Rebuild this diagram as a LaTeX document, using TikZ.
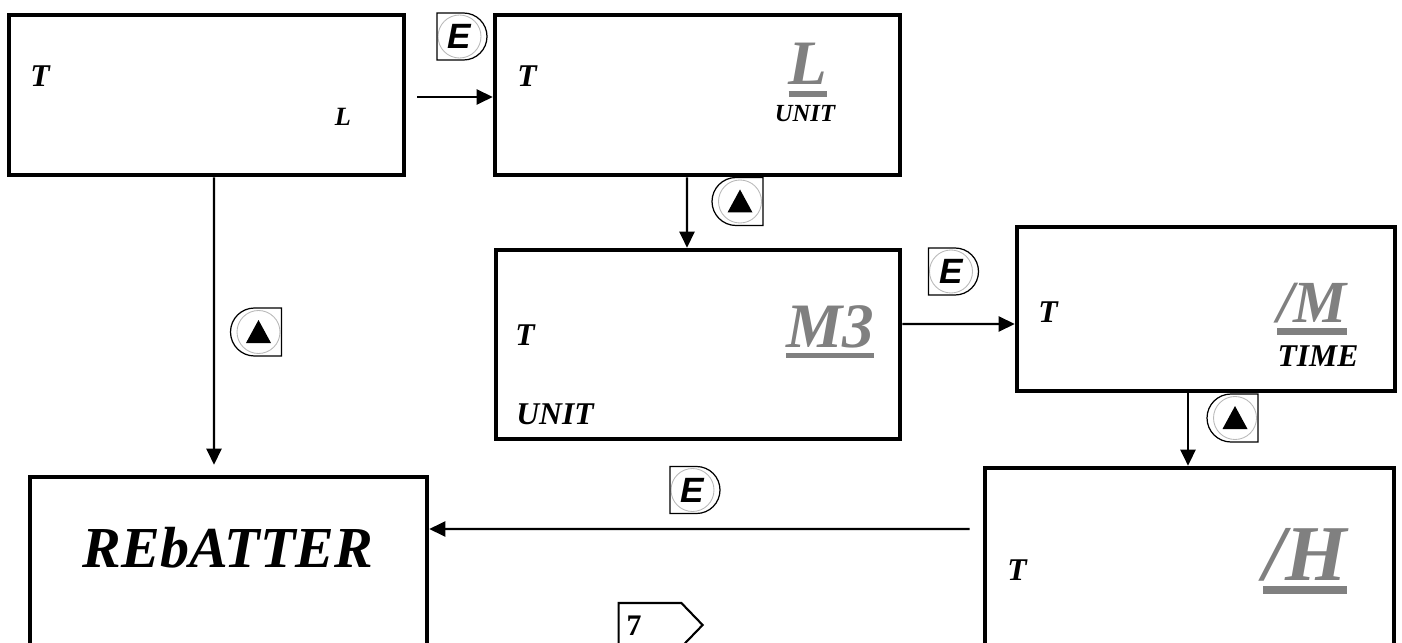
\documentclass[tikz,border=0pt]{standalone}
\usepackage{fontspec}
\setmainfont{Liberation Serif}
\newfontfamily\keyfont{Liberation Sans}
\usetikzlibrary{arrows.meta,shapes.misc,shapes.symbols}
\pgfdeclarelayer{bg}
\pgfsetlayers{bg,main}
\definecolor{dispgray}{HTML}{808080}
\newcommand{\barred}[2][3.4pt]{\vtop{\hbox{#2}\kern3.2pt\hrule height #1}}
\tikzset{
        screen/.style={draw, line width=2.6pt, inner sep=0pt},
        link/.style={line width=1.3pt, -{Triangle[length=0.32cm,width=0.30cm]}},
        ekey/.style={rounded rectangle, rounded rectangle left arc=none, draw,
                line width=0.7pt, minimum width=1.00cm, minimum height=0.94cm, inner sep=0pt,
                path picture={
                        \draw[gray!55, line width=0.5pt] ([xshift=-0.05cm]path picture bounding box.center) circle (0.43cm);
                        \node[font=\keyfont\bfseries\itshape\fontsize{20}{20}\selectfont, inner sep=0pt]
                                at ([xshift=-0.05cm]path picture bounding box.center) {E};}},
        upkey/.style={rounded rectangle, rounded rectangle right arc=none, draw,
                line width=0.7pt, minimum width=1.02cm, minimum height=0.96cm, inner sep=0pt,
                path picture={
                        \draw[gray!55, line width=0.5pt] ([xshift=0.05cm]path picture bounding box.center) circle (0.43cm);
                        \fill ([xshift=-0.20cm,yshift=-0.22cm]path picture bounding box.center)
                                -- ++(0.50,0) -- ++(-0.25,0.46) -- cycle;}},
        txt/.style={inner sep=0pt, font=\bfseries\itshape\fontsize{18}{21}\selectfont},
        big/.style={inner sep=0pt, anchor=base, text=dispgray, font=\bfseries\itshape\fontsize{36}{40}\selectfont}
}
\begin{document}
\begin{tikzpicture}
        \useasboundingbox (0,0) rectangle (28.04cm, 12.84cm);
        \clip (0,0) rectangle (28.04cm, 12.84cm);
        % screens
        \node (scr0) [screen, minimum width=7.90cm, minimum height=3.20cm] at (4.130000cm, 10.940000cm) {};
        \node (scr1) [screen, minimum width=8.10cm, minimum height=3.20cm] at (13.950000cm, 10.940000cm) {};
        \node (scr2) [screen, minimum width=8.08cm, minimum height=3.78cm] at (13.960000cm, 5.950000cm) {};
        \node (scr3) [screen, minimum width=7.56cm, minimum height=3.28cm] at (24.120000cm, 6.660000cm) {};
        \node (scr4) [screen, minimum width=7.94cm, minimum height=4.30cm] at (4.570000cm, 1.150000cm) {};
        \node (scr5) [screen, minimum width=8.18cm, minimum height=4.48cm] at (23.790000cm, 1.240000cm) {};
        % texts
        \node (t0) [txt] at (0.800000cm, 11.320000cm) {T};
        \node (l0) [txt, font=\bfseries\itshape\fontsize{15}{18}\selectfont] at (6.860000cm, 10.500000cm) {L};
        \node (t1) [txt] at (10.540000cm, 11.320000cm) {T};
        \node (u1) [big] at (16.160000cm, 11.140000cm) {\barred{L}};
        \node (n1) [txt, font=\bfseries\itshape\fontsize{14}{16}\selectfont] at (16.100000cm, 10.560000cm) {UNIT};
        \node (t2) [txt] at (10.500000cm, 6.140000cm) {T};
        \node (u2) [big] at (16.600000cm, 5.900000cm) {\barred[2.8pt]{M3}};
        \node (n2) [txt] at (11.100000cm, 4.560000cm) {UNIT};
        \node (t3) [txt] at (20.960000cm, 6.600000cm) {T};
        \node (u3) [big, font=\bfseries\itshape\fontsize{34}{38}\selectfont] at (26.240000cm, 6.400000cm) {\barred[3.8pt]{/M}};
        \node (n3) [txt] at (26.360000cm, 5.720000cm) {TIME};
        \node (t5) [txt] at (20.340000cm, 1.440000cm) {T};
        \node (u5) [big, font=\bfseries\itshape\fontsize{45}{50}\selectfont] at (26.100000cm, 1.240000cm) {\barred[4.5pt]{/H}};
        \node (r4) [txt, font=\bfseries\itshape\fontsize{33}{38}\selectfont] at (4.560000cm, 1.880000cm) {REbATTER};
        % keys
        \node (key0) [ekey] at (9.240000cm, 12.110000cm) {};
        \node (key1) [upkey] at (14.750000cm, 8.810000cm) {};
        \node (key2) [upkey] at (5.120000cm, 6.200000cm) {};
        \node (key3) [ekey] at (19.070000cm, 7.410000cm) {};
        \node (key4) [upkey] at (24.650000cm, 4.480000cm) {};
        \node (key5) [ekey] at (13.900000cm, 3.040000cm) {};
        % page tag
        \node (tag) [signal, signal to=east, signal pointer angle=92, draw, line width=1.2pt,
                minimum width=1.68cm, minimum height=0.88cm] at (13.000000cm, 0.340000cm) {};
        \node (tagnum) [inner sep=0pt, font=\bfseries\fontsize{17}{20}\selectfont] at (12.680000cm, 0.320000cm) {7};
        \begin{pgfonlayer}{bg}
                \draw [link] ([xshift=0.22cm, yshift=-0.04cm]scr0.east) -- ([yshift=-0.04cm]scr1.west);
                \draw [link] ([xshift=0.15cm]scr0.south) -- ([xshift=-0.29cm, yshift=0.20cm]scr4.north);
                \draw [link] ([xshift=-0.21cm]scr1.south) -- ([xshift=-0.22cm]scr2.north);
                \draw [link] ([yshift=0.41cm]scr2.east) -- ([yshift=-0.30cm]scr3.west);
                \draw [link] ([xshift=-0.36cm]scr3.south) -- ([xshift=-0.03cm]scr5.north);
                \draw [link] ([xshift=-0.26cm, yshift=1.02cm]scr5.west) -- ([yshift=1.11cm]scr4.east);
        \end{pgfonlayer}
\end{tikzpicture}
\end{document}
